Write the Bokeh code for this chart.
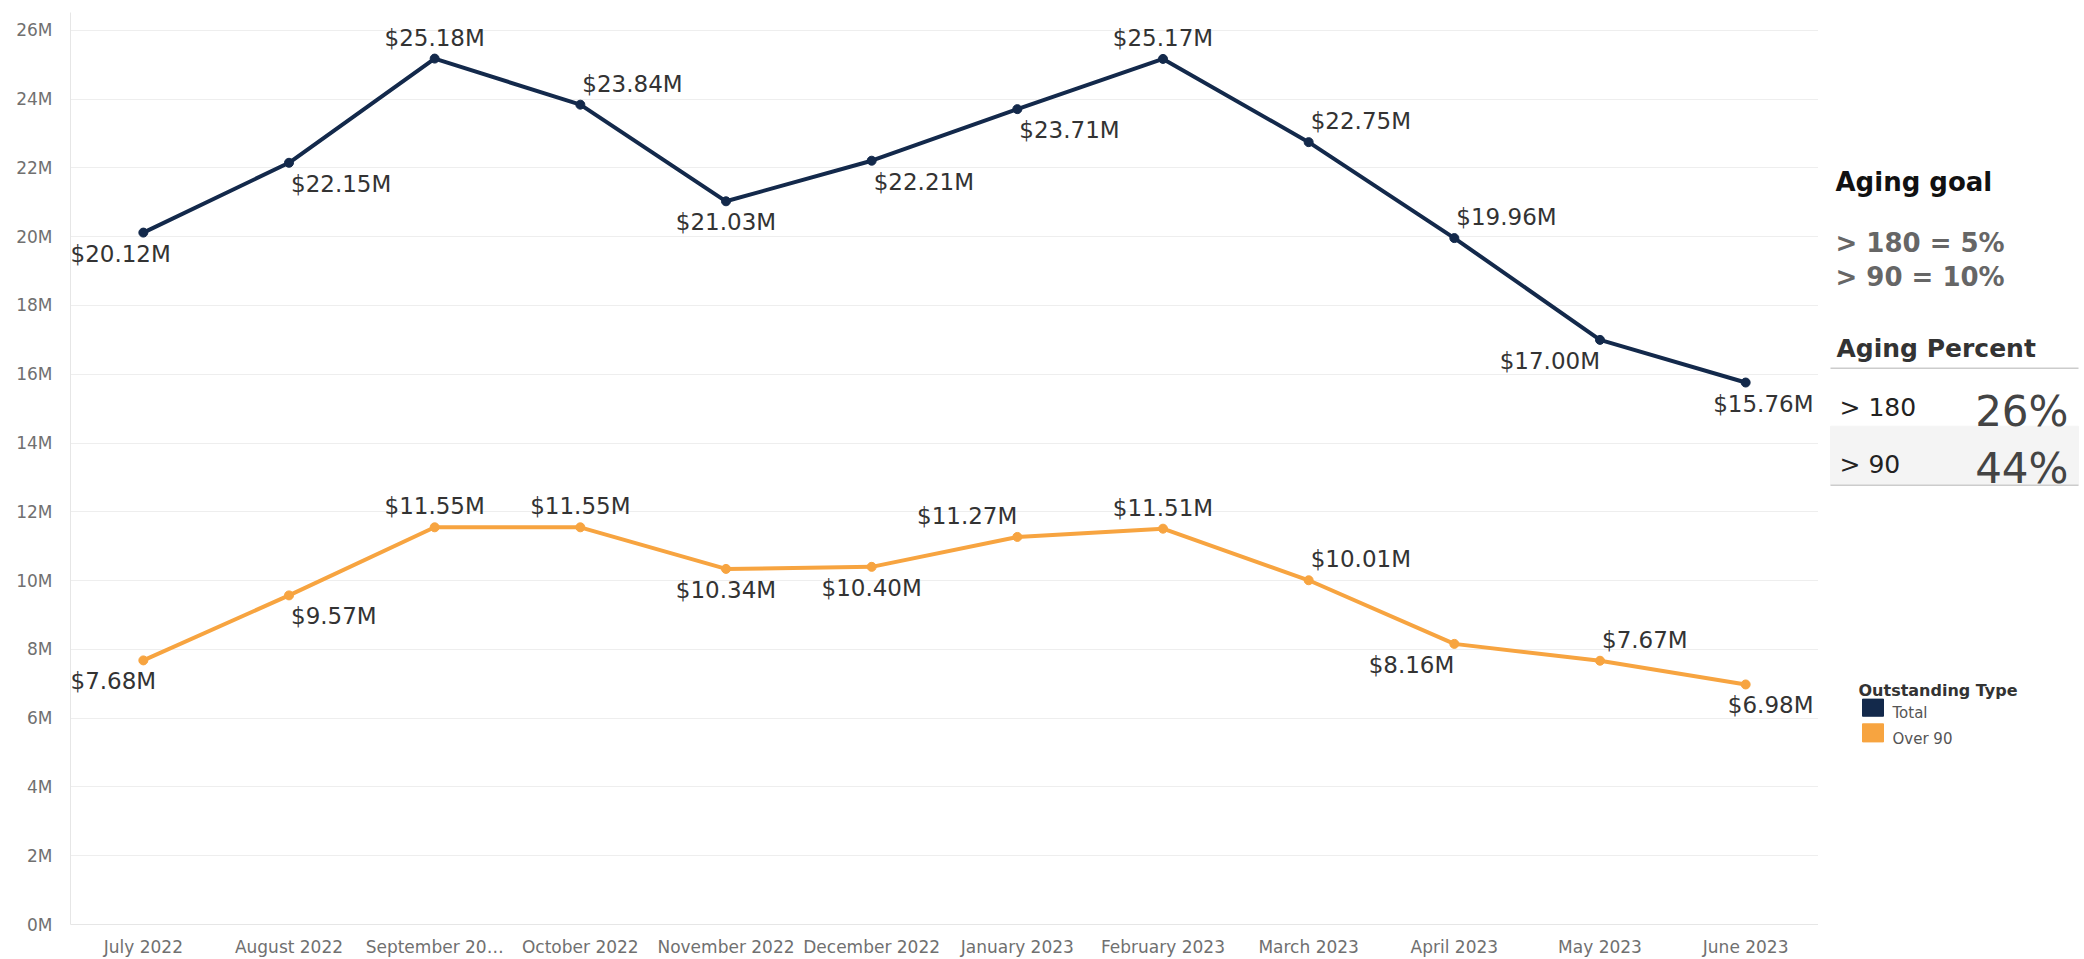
from bokeh.plotting import figure
from bokeh.models import Range1d, FactorRange, SingleIntervalTicker, PrintfTickFormatter, ColumnDataSource
from bokeh.transform import dodge
from bokeh.layouts import row
from bokeh.core.properties import value
from bokeh.embed import file_html
from bokeh.resources import INLINE

# ---------------- data ----------------
months = ["July 2022", "August 2022", "September 20\u2026", "October 2022", "November 2022",
          "December 2022", "January 2023", "February 2023", "March 2023", "April 2023",
          "May 2023", "June 2023"]
total = [20.12, 22.15, 25.18, 23.84, 21.03, 22.21, 23.71, 25.17, 22.75, 19.96, 17.00, 15.76]
over90 = [7.68, 9.57, 11.55, 11.55, 10.34, 10.40, 11.27, 11.51, 10.01, 8.16, 7.67, 6.98]
series_names = ["Total", "Over 90"]

goal_lines = ["> 180 = 5%", "> 90 = 10%"]
aging_rows = ["> 180", "> 90"]
aging_pcts = ["26%", "44%"]

# label placement (style only)
total_pos = ["below", "below", "above", "above", "below", "below", "below", "above", "above", "above", "below", "below"]
total_align = ["edge_left", "left", "center", "left", "center", "left", "left", "center", "left", "left", "right", "edge_right"]
over_pos = ["below", "below", "above", "above", "below", "below", "above", "above", "above", "below", "above", "below"]
over_align = ["edge_left", "left", "center", "center", "center", "center", "right", "center", "left", "right", "left", "edge_right"]

NAVY = "#13294b"
ORANGE = "#f7a440"
FONT = value("DejaVu Sans")

p = figure(width=1818, height=959, x_range=FactorRange(*months), y_range=Range1d(0, 26.52),
           output_backend="svg", toolbar_location=None,
           min_border_left=70, min_border_right=0, min_border_top=12, min_border_bottom=27)
p.outline_line_color = None
p.xgrid.grid_line_color = None
p.ygrid.grid_line_color = "#eeeeee"
p.ygrid.grid_line_width = 1
p.yaxis.ticker = SingleIntervalTicker(interval=2)
p.yaxis.formatter = PrintfTickFormatter(format="%dM")
for ax in (p.xaxis[0], p.yaxis[0]):
    ax.axis_line_color = "#e6e6e6"
    ax.major_tick_line_color = None
    ax.minor_tick_line_color = None
    ax.major_label_text_font = "DejaVu Sans"
    ax.major_label_text_color = "#707070"
p.yaxis.major_label_text_font_size = "17px"
p.yaxis.major_label_standoff = 12
p.xaxis.major_label_text_font_size = "17px"
p.xaxis.major_label_standoff = 6

for vals, color, pos, align in ((total, NAVY, total_pos, total_align),
                                (over90, ORANGE, over_pos, over_align)):
    src = ColumnDataSource(dict(x=months, y=vals))
    p.line("x", "y", source=src, line_color=color, line_width=4)
    p.scatter("x", "y", source=src, size=9, color=color)
    groups = {}
    for m, v, ps, al in zip(months, vals, pos, align):
        groups.setdefault((ps, al), []).append((m, v))
    for (ps, al), items in groups.items():
        s = ColumnDataSource(dict(x=[i[0] for i in items], y=[i[1] for i in items],
                                  label=["$%.2fM" % i[1] for i in items]))
        dy = -21 if ps == "above" else 21
        if al == "center":
            d, ta, dx = 0, "center", 0
        elif al == "left":
            d, ta, dx = 0, "left", 2
        elif al == "right":
            d, ta, dx = 0, "right", 0
        elif al == "edge_left":
            d, ta, dx = -0.5, "left", 0
        else:
            d, ta, dx = 0.5, "right", -5
        p.text(x=dodge("x", d, range=p.x_range), y="y", text="label", source=s,
               text_align=ta, text_baseline="middle", x_offset=dx, y_offset=dy,
               text_font=FONT, text_font_size="23px", text_color="#333333")

# ---------------- right panel (pixel coordinates of the page) ----------------
q = figure(width=266, height=959, x_range=Range1d(1818, 2084), y_range=Range1d(959, 0),
           output_backend="svg", toolbar_location=None, min_border=0)
q.axis.visible = False
q.grid.visible = False
q.outline_line_color = None

def txt(x, y, t, size, color, style="normal", align="left"):
    q.text(x=[x], y=[y], text=[t], text_font=FONT, text_font_size=size, text_color=color,
           text_font_style=style, text_align=align, text_baseline="alphabetic")

txt(1835, 178, "Aging goal", "26px", "#111111", "bold")
txt(1835, 242, goal_lines[0], "26px", "#666666", "bold")
txt(1835, 278, goal_lines[1], "26px", "#666666", "bold")
txt(1836, 353, "Aging Percent", "25px", "#333333", "bold")

q.quad(left=[1830], right=[2078], top=[435], bottom=[497], color="#f4f4f4")
q.segment(x0=[1830, 1830], x1=[2078, 2078], y0=[374, 497], y1=[374, 497], line_color="#cccccc", line_width=1.5)
txt(1839, 415, aging_rows[0], "25px", "#222222")
txt(1839, 475, aging_rows[1], "25px", "#222222")
txt(2068, 420, aging_pcts[0], "42px", "#444444", align="right")
txt(2068, 480, aging_pcts[1], "42px", "#444444", align="right")

# legend
txt(1858, 713, "Outstanding Type", "16px", "#333333", "bold")
q.quad(left=[1862, 1862], right=[1883, 1883], top=[722, 748], bottom=[740, 767], color=[NAVY, ORANGE])
txt(1892, 737, series_names[0], "15px", "#555555")
txt(1892, 764, series_names[1], "15px", "#555555")

layout = row(p, q)
open("out.html", "w").write(file_html(layout, INLINE))
